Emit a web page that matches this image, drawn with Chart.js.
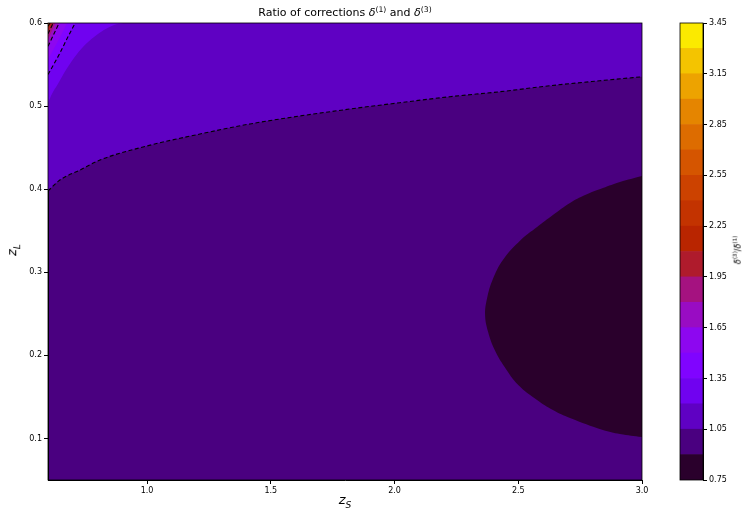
<!DOCTYPE html>
<html lang="en">
<head>
  <meta charset="UTF-8" />
  <title>Ratio of corrections</title>
  <style>
    body {
      margin: 0;
      background: #fff;
      font-family: 'DejaVu Sans', sans-serif;
    }

    #wrap {
      position: relative;
      width: 742px;
      height: 510px;
    }

    canvas {
      position: absolute;
      top: 0;
    }

    .lbl {
      position: absolute;
      white-space: nowrap;
      color: #000;
      transform: translate(-50%, -50%);
    }

    .lbl sup {
      font-size: 0.7em;
    }

    .math {
      font-style: italic;
    }
  </style>
</head>
<body>
  <div id="wrap">
    <canvas id="main" width="742" height="510" style="left:0"></canvas>
    <canvas id="cbar" width="102" height="510" style="left:640px"></canvas>

    <div class="lbl" style="left:345px; top:12px; font-size:11px;">
      Ratio of corrections <span class="math">δ</span><sup>(1)</sup> and <span class="math">δ</span><sup>(3)</sup>
    </div>
    <div class="lbl" style="left:345px; top:501px; font-size:13px;">
      <span class="math">z</span><sub style="font-size:0.7em" class="math">S</sub>
    </div>
    <div class="lbl" style="left:13px; top:250px; font-size:13px; transform: translate(-50%, -50%) rotate(-90deg);">
      <span class="math">z</span><sub style="font-size:0.7em" class="math">L</sub>
    </div>
    <div class="lbl" style="left:737px; top:250px; font-size:8px; transform: translate(-50%, -50%) rotate(-90deg);">
      <span class="math">δ</span><sup>(3)</sup>/<span class="math">δ</span><sup>(1)</sup>
    </div>
  </div>

  <script src="https://cdn.jsdelivr.net/npm/chart.js"></script>
  <script>
    // axis ticks
    const zsTicks = [1.0, 1.5, 2.0, 2.5, 3.0];
    const zlTicks = [0.1, 0.2, 0.3, 0.4, 0.5, 0.6];
    const cbarTicks = [0.75, 1.05, 1.35, 1.65, 1.95, 2.25, 2.55, 2.85, 3.15, 3.45];

    // contour levels of delta3/delta1
    const levels = [0.75, 0.9, 1.05, 1.2, 1.35, 1.5, 1.65, 1.8, 1.95, 2.1,
                    2.25, 2.4, 2.55, 2.7, 2.85, 3.0, 3.15, 3.3, 3.45];

    // boundaries (z_S, z_L)
    // 0.9 level: closed region on the right (below 0.9)
    const c090_zs = [3.0, 2.911, 2.842, 2.709, 2.64, 2.576, 2.5, 2.445, 2.405, 2.378,
                     2.366, 2.374, 2.396, 2.438, 2.51, 2.576, 2.64, 2.709, 2.77, 2.842, 2.911, 3.0];
    const c090_zl = [0.1017, 0.1054, 0.1102, 0.1246, 0.1342, 0.1463, 0.1643, 0.186, 0.2065, 0.2285,
                     0.2486, 0.2686, 0.2907, 0.3148, 0.3388, 0.3545, 0.3689, 0.3834, 0.393, 0.4014, 0.4087, 0.4159];

    // 1.05 level (dashed)
    const c105_zs = [0.6, 0.648, 0.729, 0.81, 1.0, 1.214, 1.416, 1.618, 1.82, 2.022, 2.224, 2.426, 2.628, 2.83, 3.0];
    const c105_zl = [0.3978, 0.411, 0.423, 0.4351, 0.452, 0.4664, 0.4785, 0.4881, 0.4965, 0.5041, 0.5113, 0.5173, 0.5245, 0.5305, 0.5353];

    // upper left corner levels
    const c120_zs = [0.6, 0.616, 0.64, 0.665, 0.705, 0.745, 0.786, 0.826, 0.867, 0.905];
    const c120_zl = [0.5037, 0.5146, 0.5266, 0.5398, 0.5579, 0.5723, 0.5832, 0.5916, 0.5976, 0.6];
    const c135_zs = [0.6, 0.645, 0.679, 0.71];
    const c135_zl = [0.538, 0.562, 0.5824, 0.6];
    const c150_zs = [0.6, 0.64, 0.678];
    const c150_zl = [0.556, 0.578, 0.6];
    const c165_zs = [0.6, 0.645];
    const c165_zl = [0.572, 0.6];
    const c180_zs = [0.6, 0.63];
    const c180_zl = [0.58, 0.6];
    const c195_zs = [0.6, 0.621];
    const c195_zl = [0.587, 0.6];
    const c210_zs = [0.6, 0.614];
    const c210_zl = [0.592, 0.6];
    const c225_zs = [0.6, 0.608];
    const c225_zl = [0.596, 0.6];

    // gnuplot colormap
    function gnuplot(t) {
      const r = Math.sqrt(t);
      const g = t * t * t;
      const b = Math.max(0, Math.sin(2 * Math.PI * t));
      const h = v => Math.round(Math.min(1, Math.max(0, v)) * 255);
      return `rgb(${h(r)},${h(g)},${h(b)})`;
    }
    const lo = levels[0], hi = levels[levels.length - 1];
    function bandColor(i) {
      const mid = (levels[i] + levels[i + 1]) / 2;
      return gnuplot((mid - lo) / (hi - lo));
    }

    const pts = (xs, ys) => xs.map((x, i) => ({ x: x, y: ys[i] }));

    function band(xs, ys, level, order, dashed) {
      const i = levels.indexOf(level);
      return {
        data: pts(xs, ys),
        fill: 'end',
        backgroundColor: bandColor(i),
        borderColor: dashed ? '#000' : 'rgba(0,0,0,0)',
        borderWidth: dashed ? 1.1 : 0,
        borderDash: [4, 2.5],
        cubicInterpolationMode: 'monotone',
        order: order
      };
    }

    const datasets = [
      {
        data: pts(c090_zs, c090_zl),
        fill: 'shape',
        backgroundColor: bandColor(0),
        borderWidth: 0,
        borderColor: 'rgba(0,0,0,0)',
        tension: 0.4,
        order: 20
      },
      band(c105_zs, c105_zl, 1.05, 19, true),
      band(c120_zs, c120_zl, 1.2, 18, false),
      band(c135_zs, c135_zl, 1.35, 17, true),
      band(c150_zs, c150_zl, 1.5, 16, false),
      band(c165_zs, c165_zl, 1.65, 15, true),
      band(c180_zs, c180_zl, 1.8, 14, false),
      band(c195_zs, c195_zl, 1.95, 13, true),
      band(c210_zs, c210_zl, 2.1, 12, false),
      band(c225_zs, c225_zl, 2.25, 11, true)
    ];

    // background = band 0.9 .. 1.05, plus the frame
    const framePlugin = {
      id: 'frame',
      beforeDraw(chart) {
        const a = chart.chartArea, ctx = chart.ctx;
        ctx.save();
        ctx.fillStyle = bandColor(1);
        ctx.fillRect(a.left, a.top, a.right - a.left, a.bottom - a.top);
        ctx.restore();
      },
      afterDraw(chart) {
        const a = chart.chartArea, ctx = chart.ctx;
        ctx.save();
        ctx.strokeStyle = '#000';
        ctx.lineWidth = 0.8;
        ctx.strokeRect(a.left, a.top, a.right - a.left, a.bottom - a.top);
        ctx.restore();
      }
    };

    const tickFont = { family: 'DejaVu Sans', size: 8 };

    new Chart(document.getElementById('main'), {
      type: 'line',
      data: { datasets: datasets },
      options: {
        responsive: false,
        animation: false,
        layout: { padding: { left: 0, top: 23, right: 100, bottom: 0 } },
        elements: { point: { radius: 0 } },
        plugins: {
          legend: { display: false },
          tooltip: { enabled: false },
          filler: { drawTime: 'beforeDatasetsDraw' }
        },
        scales: {
          x: {
            type: 'linear',
            min: 0.6,
            max: 3.0,
            afterBuildTicks: s => { s.ticks = zsTicks.map(v => ({ value: v })); },
            afterFit: s => { s.height = 30; },
            ticks: { callback: v => v.toFixed(1), font: tickFont, color: '#000', maxRotation: 0, autoSkip: false, padding: 2 },
            grid: { drawOnChartArea: false, tickLength: 4, color: '#000' },
            border: { color: '#000' }
          },
          y: {
            type: 'linear',
            min: 0.05,
            max: 0.6,
            afterBuildTicks: s => { s.ticks = zlTicks.map(v => ({ value: v })); },
            afterFit: s => { s.width = 48; },
            ticks: { callback: v => v.toFixed(1), font: tickFont, color: '#000', autoSkip: false, padding: 2 },
            grid: { drawOnChartArea: false, tickLength: 4, color: '#000' },
            border: { color: '#000' }
          }
        }
      },
      plugins: [framePlugin]
    });

    // colorbar
    const cbarSets = levels.slice(0, -1).map((v, i) => ({
      data: [[v, levels[i + 1]]],
      backgroundColor: bandColor(i),
      borderWidth: 0,
      barPercentage: 1,
      categoryPercentage: 1
    }));

    const cbarFrame = {
      id: 'cbarFrame',
      afterDraw(chart) {
        const a = chart.chartArea, ctx = chart.ctx;
        ctx.save();
        ctx.strokeStyle = '#000';
        ctx.lineWidth = 0.8;
        ctx.strokeRect(a.left, a.top, a.right - a.left, a.bottom - a.top);
        ctx.restore();
      }
    };

    new Chart(document.getElementById('cbar'), {
      type: 'bar',
      data: { labels: [''], datasets: cbarSets },
      options: {
        responsive: false,
        animation: false,
        layout: { padding: { left: 40, top: 23, right: 0, bottom: 30 } },
        plugins: { legend: { display: false }, tooltip: { enabled: false } },
        scales: {
          x: { display: false, stacked: true },
          y: {
            position: 'right',
            min: 0.75,
            max: 3.45,
            afterBuildTicks: s => { s.ticks = cbarTicks.map(v => ({ value: v })); },
            afterFit: s => { s.width = 39; },
            ticks: { callback: v => v.toFixed(2), font: tickFont, color: '#000', autoSkip: false, padding: 2 },
            grid: { drawOnChartArea: false, tickLength: 4, color: '#000' },
            border: { color: '#000' }
          }
        }
      },
      plugins: [cbarFrame]
    });
  </script>
</body>
</html>
